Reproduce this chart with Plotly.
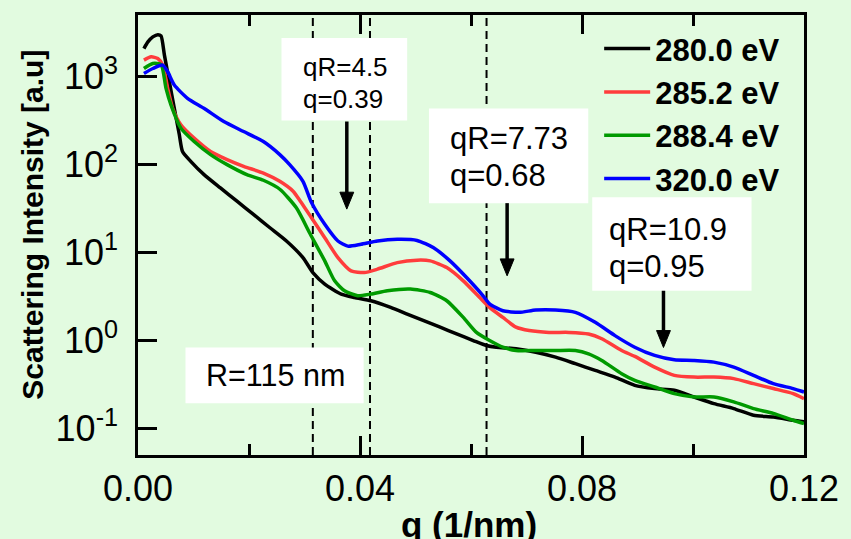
import plotly.graph_objects as go

# ---- data ----
q_280 = [0.00107, 0.00178, 0.00267, 0.00357, 0.00415, 0.00476, 0.00565, 0.00654, 0.00744, 0.00802,
         0.0095, 0.0119, 0.01485, 0.01783, 0.0208, 0.02377, 0.02675, 0.02972, 0.03151, 0.03365,
         0.03661, 0.039, 0.04196, 0.04552, 0.0485, 0.05148, 0.05444, 0.05741, 0.0604, 0.06276,
         0.06455, 0.06811, 0.07168, 0.07524, 0.07881, 0.08238, 0.08594, 0.0895, 0.09308, 0.09664,
         0.1002, 0.10377, 0.10734, 0.1109, 0.11447, 0.11804, 0.12]
I_280 = [2093, 2493, 2840, 3015, 2915, 1762, 878, 437, 220, 141,
         109, 76.9, 54.2, 38.3, 27.1, 19.1, 13.5, 8.73, 5.9, 4.36,
         3.36, 3.07, 2.82, 2.37, 1.99, 1.67, 1.41, 1.18, 0.994, 0.872,
         0.834, 0.800, 0.732, 0.643, 0.541, 0.454, 0.381, 0.307, 0.282, 0.270,
         0.226, 0.190, 0.167, 0.140, 0.134, 0.123, 0.118]

q_285 = [0.00107, 0.00237, 0.00357, 0.00446, 0.00535, 0.00624, 0.00772, 0.01011, 0.01307, 0.01605,
         0.01903, 0.02259, 0.02555, 0.02794, 0.02925, 0.03126, 0.03365, 0.03602, 0.03839, 0.04078,
         0.04315, 0.04672, 0.05028, 0.05265, 0.05563, 0.05861, 0.06157, 0.06335, 0.06574, 0.06811,
         0.07049, 0.07405, 0.07762, 0.08118, 0.08357, 0.08714, 0.08951, 0.09308, 0.09664, 0.1002,
         0.10377, 0.10734, 0.1109, 0.11447, 0.11804, 0.12]
I_285 = [1546, 1685, 1612, 1357, 737, 437, 284, 200, 141, 114,
         95.5, 80.2, 64.6, 49.8, 38.3, 24.8, 14.7, 8.73, 6.17, 5.90,
         6.45, 7.66, 8.16, 8.01, 6.72, 4.75, 3.07, 2.37, 1.82, 1.41,
         1.29, 1.23, 1.23, 1.18, 1.04, 0.765, 0.655, 0.495, 0.399, 0.381,
         0.381, 0.366, 0.321, 0.282, 0.247, 0.217]

q_288 = [0.00107, 0.00267, 0.00415, 0.00505, 0.00594, 0.00772, 0.01011, 0.01307, 0.01605, 0.01961,
         0.02259, 0.02555, 0.02853, 0.03103, 0.03365, 0.03543, 0.03721, 0.03958, 0.04196, 0.04493,
         0.04909, 0.05265, 0.05563, 0.05861, 0.06098, 0.06335, 0.06574, 0.06811, 0.07168, 0.07524,
         0.07881, 0.08118, 0.08357, 0.08714, 0.08951, 0.09308, 0.09664, 0.1002, 0.10377, 0.10734,
         0.1109, 0.11447, 0.11804, 0.12]
I_288 = [1242, 1415, 1378, 737, 478, 260, 183, 130, 99.9, 76.9,
         66.3, 52.4, 32.2, 16.2, 8.01, 4.75, 3.66, 3.21, 3.36, 3.66,
         3.83, 3.50, 2.82, 1.82, 1.23, 0.994, 0.834, 0.765, 0.765, 0.765,
         0.765, 0.702, 0.590, 0.417, 0.350, 0.294, 0.247, 0.226, 0.226, 0.199,
         0.167, 0.147, 0.123, 0.113]

q_320 = [0.00107, 0.00267, 0.00446, 0.00535, 0.00654, 0.00892, 0.01189, 0.01546, 0.01903, 0.02259,
         0.02555, 0.02733, 0.02972, 0.03126, 0.03365, 0.03602, 0.0378, 0.04017, 0.04315, 0.04672,
         0.05028, 0.05326, 0.05622, 0.0592, 0.06218, 0.06335, 0.06574, 0.0687, 0.07168, 0.07524,
         0.07881, 0.08238, 0.08594, 0.0895, 0.09308, 0.09664, 0.1002, 0.10377, 0.10734, 0.1109,
         0.11447, 0.11804, 0.12]
I_320 = [1090, 1242, 1357, 1140, 805, 568, 437, 309, 238, 183,
         130, 99.9, 64.6, 37.0, 20.9, 13.5, 11.8, 12.4, 13.5, 14.1,
         13.7, 11.3, 8.01, 5.18, 3.21, 2.59, 2.17, 2.08, 2.21, 2.21,
         2.08, 1.60, 1.13, 0.834, 0.672, 0.600, 0.590, 0.564, 0.495, 0.399,
         0.321, 0.282, 0.258]

series_names = ["280.0 eV", "285.2 eV", "288.4 eV", "320.0 eV"]
series_colors = ["#000000", "#ff3c3c", "#009a00", "#0000ff"]

guide_q = [0.0315, 0.0418, 0.0628]          # dashed guide lines
x_major_ticks = [0.0, 0.04, 0.08, 0.12]
x_major_text = ["0.00", "0.04", "0.08", "0.12"]
x_minor_ticks = [0.02, 0.06, 0.10]
y_tickvals = [0.1, 1, 10, 100, 1000]
y_ticktext = ["10<sup>-1</sup>", "10<sup>0</sup>", "10<sup>1</sup>", "10<sup>2</sup>", "10<sup>3</sup>"]

# ---- figure ----
FONT = "Arial, Liberation Sans, sans-serif"
BG = "#e2fbe0"
W, H = 851, 539
L, R, T, B = 138, 40, 13, 84
PW, PH = W - L - R, H - T - B


def px(xp):
    return (xp - L) / PW


def py(yp):
    return (H - B - yp) / PH


fig = go.Figure()
for qs, Is, name, col in zip([q_280, q_285, q_288, q_320], [I_280, I_285, I_288, I_320],
                             series_names, series_colors):
    fig.add_trace(go.Scatter(x=qs, y=Is, mode="lines", name=name,
                             line=dict(color=col, width=3.5, shape="spline", smoothing=0.6)))

shapes = []
for gq in guide_q:
    shapes.append(dict(type="line", xref="x", yref="paper", x0=gq, x1=gq, y0=0, y1=1,
                       line=dict(color="black", width=2, dash="8px,5px"), layer="below"))

boxes = [(283, 410, 36, 119), (432, 593, 107, 202), (597, 758, 196, 290), (186, 366, 347, 403)]
for x0, x1, y0, y1 in boxes:
    shapes.append(dict(type="rect", xref="paper", yref="paper", x0=px(x0), x1=px(x1),
                       y0=py(y1), y1=py(y0), fillcolor="white", line=dict(width=0), layer="above"))

# arrows (shaft + filled head), positions in pixels of the plot frame
arrows = [(349, 120, 208), (511, 202, 275), (669, 290, 347)]
HEAD_W, HEAD_L = 14, 17
for x, tail, tip in arrows:
    shapes.append(dict(type="line", xref="paper", yref="paper", x0=px(x), x1=px(x),
                       y0=py(tail), y1=py(tip - HEAD_L + 2),
                       line=dict(color="black", width=3.5), layer="above"))
    path = "M {:.5f} {:.5f} L {:.5f} {:.5f} L {:.5f} {:.5f} Z".format(
        px(x - HEAD_W / 2), py(tip - HEAD_L), px(x + HEAD_W / 2), py(tip - HEAD_L), px(x), py(tip))
    shapes.append(dict(type="path", xref="paper", yref="paper", path=path,
                       fillcolor="black", line=dict(color="black", width=1), layer="above"))

texts = [("qR=4.5", 303, 65.5, 26), ("q=0.39", 303, 97, 26),
         ("qR=7.73", 451.7, 137, 31), ("q=0.68", 451.7, 174, 31),
         ("qR=10.9", 612, 228, 31), ("q=0.95", 612, 266, 31),
         ("R=115 nm", 205, 375, 30.5)]
annotations = []
for t, x, y, s in texts:
    annotations.append(dict(text=t, xref="paper", yref="paper", x=px(x), y=py(y),
                            xanchor="left", yanchor="middle", showarrow=False,
                            font=dict(size=s, family=FONT, color="black")))

annotations.append(dict(text="<b>Scattering Intensity [a.u]</b>", xref="paper", yref="paper",
                        x=px(31), y=py(223.5), textangle=-90, showarrow=False,
                        xanchor="center", yanchor="middle",
                        font=dict(size=30, family=FONT, color="black")))
annotations.append(dict(text="<b>q (1/nm)</b>", xref="paper", yref="paper",
                        x=px(472), y=py(525), showarrow=False,
                        xanchor="center", yanchor="middle",
                        font=dict(size=35, family=FONT, color="black")))

axis_common = dict(ticks="inside", tickwidth=2.5, tickcolor="black",
                   showline=True, linewidth=2.5, linecolor="black",
                   showgrid=False, zeroline=False)

fig.update_layout(
    width=W, height=H,
    margin=dict(l=L, r=R, t=T, b=B),
    paper_bgcolor=BG, plot_bgcolor=BG,
    font=dict(family=FONT, color="black"),
    showlegend=True,
    legend=dict(x=px(604), y=py(20), xanchor="left", yanchor="top",
                bgcolor="rgba(0,0,0,0)", borderwidth=0, itemwidth=46, tracegroupgap=0,
                font=dict(size=31, family=FONT, color="black", weight="bold")),
    shapes=shapes,
    annotations=annotations,
    xaxis=dict(range=[0, 0.12], tickvals=x_major_ticks, ticktext=x_major_text,
               ticklen=19, mirror="ticks", ticklabelstandoff=0,
               minor=dict(tickmode="array", tickvals=x_minor_ticks, ticks="inside",
                          ticklen=11, tickwidth=2.5, tickcolor="black", showgrid=False),
               tickfont=dict(size=36, family=FONT, color="black"), **axis_common),
    yaxis=dict(type="log", range=[-1.306, 3.703], tickvals=y_tickvals, ticktext=y_ticktext,
               ticklen=19, mirror=True, ticklabelstandoff=10,
               tickfont=dict(size=36, family=FONT, color="black"), **axis_common),
)

fig.write_html("out.html", config={"displayModeBar": False},
               post_script="document.body.style.margin='0px';")
